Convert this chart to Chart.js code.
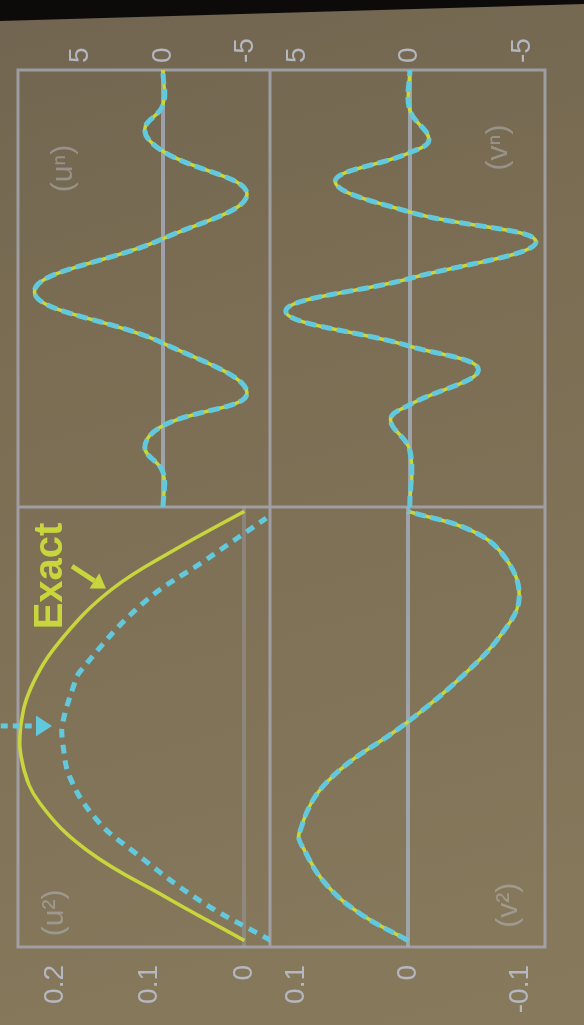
<!DOCTYPE html>
<html>
<head>
<meta charset="utf-8">
<script src="https://cdn.jsdelivr.net/npm/chart.js@4/dist/chart.umd.min.js"></script>
<style>
  html, body { margin: 0; padding: 0; width: 584px; height: 1025px; overflow: hidden; }
  body {
    position: relative;
    background: linear-gradient(165deg, #716551 0%, #7a6d53 30%, #807358 65%, #877a5c 100%);
  }
  /* the slide is drawn upright and turned like in the photo */
  #slide {
    position: absolute; left: 0; top: 0; width: 1025px; height: 584px;
    transform-origin: 0 0;
    transform: translate(0, 1025px) rotate(-90deg);
  }
  #slide canvas { position: absolute; }
  #shade {
    position: absolute; left: 0; top: 0; width: 584px; height: 24px; z-index: 2;
    background: #0d0b09;
    clip-path: polygon(0 0, 100% 0, 100% 4px, 0 21px);
  }
</style>
</head>
<body>
<div id="slide">
  <canvas id="tl" width="518" height="270" style="left:0;top:0"></canvas>
  <canvas id="tr" width="507" height="270" style="left:518px;top:0"></canvas>
  <canvas id="bl" width="518" height="314" style="left:0;top:270px"></canvas>
  <canvas id="br" width="507" height="314" style="left:518px;top:270px"></canvas>
</div>
<div id="shade"></div>
<script>
// top-left panel: lowest mode, exact (yellow) vs computed (cyan dashed)
const tlExactT  = [0, 0.1, 0.21, 0.32, 0.41, 0.5, 0.6, 0.71, 0.82, 0.91, 1.0];
const tlExactV  = [0, 0.082, 0.166, 0.216, 0.234, 0.236, 0.223, 0.19, 0.139, 0.074, 0];
const tlApproxT = [0, 0.093, 0.209, 0.279, 0.379, 0.465, 0.505, 0.588, 0.628, 0.786, 0.888, 0.984];
const tlApproxV = [-0.028, 0.047, 0.118, 0.155, 0.184, 0.192, 0.192, 0.181, 0.173, 0.107, 0.04, -0.023];

// bottom-left panel: second mode (both curves on top of each other)
const blT = [0, 0.065, 0.134, 0.209, 0.25, 0.37, 0.51, 0.62, 0.72, 0.8, 0.89, 0.953, 1.0];
const blV = [0, 0.044, 0.074, 0.092, 0.097, 0.072, 0, -0.05, -0.085, -0.099, -0.087, -0.058, 0];

// top-right panel: wave packet
const trT = [0, 0.08, 0.136, 0.186, 0.261, 0.375, 0.493, 0.614, 0.716, 0.814, 0.864, 0.92, 1.0];
const trV = [0, 0, 1.1, 0, -5.1, 0, 7.8, 0, -5.1, 0, 1.1, 0, 0];

// bottom-right panel: wave packet
const brT = [0, 0.13, 0.2, 0.234, 0.314, 0.368, 0.448, 0.523, 0.607, 0.675, 0.745, 0.811, 0.841, 0.909, 1.0];
const brV = [0, 0, 0.85, 0, -3.05, 0, 5.5, 0, -5.6, 0, 3.3, 0, -0.85, 0, 0];

// tick labels
const tlTicks = [0, 0.1, 0.2];
const blTicks = [-0.1, 0, 0.1];
const trTicks = [-5, 0, 5];
const brTicks = [-5, 0, 5];

// panel tags
const panelTags = ['(u²)', '(uⁿ)', '(v²)', '(vⁿ)'];

const YELLOW = '#c9d53c';
const CYAN = '#62c9dc';
const FRAME = 'rgba(170,174,188,0.75)';
const TEXT = 'rgba(190,195,210,0.85)';
const FONT = '"Liberation Sans", "DejaVu Sans", Arial, sans-serif';

const pts = (t, v) => t.map((x, i) => ({ x, y: v[i] }));

function drawArrow(ctx, x1, y1, x2, y2, color, width, head, dash) {
  const a = Math.atan2(y2 - y1, x2 - x1);
  const bx = x2 - head * Math.cos(a), by = y2 - head * Math.sin(a);
  ctx.save();
  ctx.strokeStyle = color; ctx.fillStyle = color; ctx.lineWidth = width;
  ctx.setLineDash(dash || []);
  ctx.beginPath(); ctx.moveTo(x1, y1); ctx.lineTo(bx, by); ctx.stroke();
  ctx.setLineDash([]);
  const w = head * 0.65;
  ctx.beginPath();
  ctx.moveTo(x2, y2);
  ctx.lineTo(bx + w * Math.sin(a), by - w * Math.cos(a));
  ctx.lineTo(bx - w * Math.sin(a), by + w * Math.cos(a));
  ctx.closePath(); ctx.fill();
  ctx.restore();
}

const slidePlugin = {
  id: 'slide',
  beforeDatasetsDraw(chart) {
    const { ctx, chartArea: a } = chart;
    ctx.save();
    ctx.strokeStyle = FRAME;
    ctx.lineWidth = 3;
    ctx.strokeRect(a.left, a.top, a.right - a.left, a.bottom - a.top);
    ctx.restore();
  },
  afterDatasetsDraw(chart, args, opts) {
    const { ctx, scales: { x, y } } = chart;
    if (opts.tag) {
      ctx.save();
      ctx.font = '30px ' + FONT;
      ctx.fillStyle = 'rgba(195,200,215,0.42)';
      ctx.fillText(opts.tag.text, x.getPixelForValue(opts.tag.t), y.getPixelForValue(opts.tag.v));
      ctx.restore();
    }
    (opts.arrows || []).forEach(ar => {
      drawArrow(ctx, x.getPixelForValue(ar.from[0]), y.getPixelForValue(ar.from[1]),
        x.getPixelForValue(ar.to[0]), y.getPixelForValue(ar.to[1]),
        ar.color, ar.width, ar.head, ar.dash);
    });
    (opts.notes || []).forEach(n => {
      ctx.save();
      ctx.font = n.font;
      ctx.fillStyle = n.color;
      ctx.fillText(n.text, x.getPixelForValue(n.t), y.getPixelForValue(n.v));
      ctx.restore();
    });
  }
};

function curves(exact, approx, wide) {
  return [
    { data: approx, borderColor: CYAN, borderWidth: 5, borderDash: wide ? [9, 7] : [11, 5], order: 0 },
    { data: exact, borderColor: YELLOW, borderWidth: 3.5, order: 1 }
  ].map(d => Object.assign(d, { showLine: true, pointRadius: 0, fill: false, tension: 0.4 }));
}

function makePanel(id, datasets, xr, yr, ticks, side, fmt, pad, extra, zeroCol) {
  return new Chart(document.getElementById(id), {
    type: 'scatter',
    data: { datasets },
    options: {
      responsive: false,
      animation: false,
      events: [],
      layout: { padding: pad },
      plugins: { legend: { display: false }, tooltip: { enabled: false }, slide: extra },
      scales: {
        x: { type: 'linear', min: xr[0], max: xr[1], display: false },
        y: {
          type: 'linear', position: side, min: yr[0], max: yr[1],
          afterBuildTicks: s => { s.ticks = ticks.map(v => ({ value: v })); },
          afterFit: s => {
            s.width = side === 'left' ? 78 : 70;
            s.paddingTop = 0; s.paddingBottom = 0;
          },
          border: { display: false },
          grid: {
            drawTicks: false, lineWidth: 4,
            color: c => c.tick && c.tick.value === 0 ? zeroCol : 'rgba(0,0,0,0)'
          },
          ticks: {
            padding: side === 'left' ? 18 : 7,
            color: TEXT,
            font: { family: FONT, size: 28 },
            callback: fmt
          }
        }
      }
    },
    plugins: [slidePlugin]
  });
}

const fmtDec = v => v === 0 ? '0' : v.toFixed(1);
const fmtInt = v => String(v);

makePanel('tl', curves(pts(tlExactT, tlExactV), pts(tlApproxT, tlApproxV), true),
  [-0.015, 1.01], [-0.027, 0.239], tlTicks, 'left', fmtDec, { top: 18 },
  {
    tag: { text: panelTags[0], t: 0.01, v: 0.192 },
    arrows: [
      { from: [0.5, 0.27], to: [0.5, 0.203], color: CYAN, width: 5, head: 16, dash: [7, 5] },
      { from: [0.872, 0.182], to: [0.82, 0.146], color: YELLOW, width: 5, head: 14 }
    ],
    notes: [{ text: 'Exact', t: 0.725, v: 0.193, font: 'bold 40px ' + FONT, color: YELLOW }]
  }, 'rgba(165,170,186,0.35)');

makePanel('tr', curves(pts(trT, trV), pts(trT, trV), false),
  [0, 1], [-6.5, 8.8], trTicks, 'right', fmtInt, { top: 18 },
  { tag: { text: panelTags[1], t: 0.72, v: 5.5 } }, 'rgba(168,174,190,0.8)');

makePanel('bl', curves(pts(blT, blV), pts(blT, blV), false),
  [-0.015, 1.01], [-0.122, 0.123], blTicks, 'left', fmtDec, { bottom: 39 },
  { tag: { text: panelTags[2], t: 0.03, v: -0.097 } }, 'rgba(168,174,190,0.8)');

makePanel('br', curves(pts(brT, brV), pts(brT, brV), false),
  [0, 1], [-6.0, 6.2], brTicks, 'right', fmtInt, { bottom: 39 },
  { tag: { text: panelTags[3], t: 0.77, v: -4.3 } }, 'rgba(168,174,190,0.8)');
</script>
</body>
</html>
